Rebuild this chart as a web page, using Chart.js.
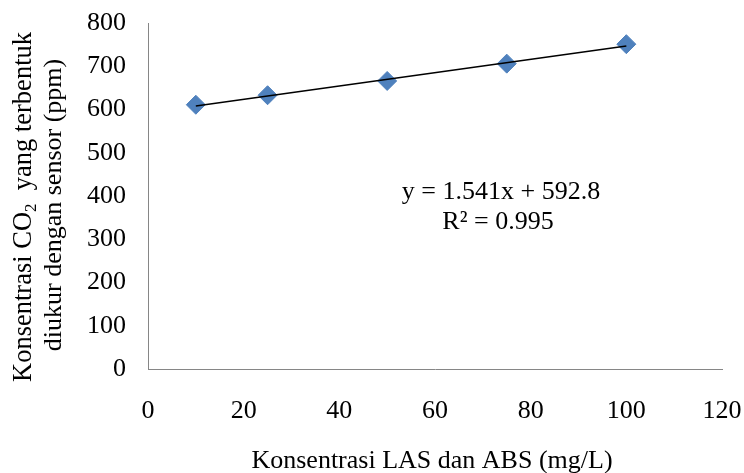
<!DOCTYPE html>
<html>
<head>
<meta charset="utf-8">
<script src="https://cdn.jsdelivr.net/npm/chart.js@4.4.0/dist/chart.umd.min.js"></script>
<style>
  html, body { margin: 0; padding: 0; background: #fff; }
  #wrap { width: 744px; height: 473px; }
</style>
</head>
<body>
<div id="wrap"><canvas id="co2Chart"></canvas></div>
<script>
// data
let lasAbs = [10, 25, 50, 75, 100];
let co2Ppm = [611, 633, 666, 706, 751];
let trendCoef = [1.541, 592.8];   // slope, intercept
let xTicks = [0, 20, 40, 60, 80, 100, 120];
let yTicks = [0, 100, 200, 300, 400, 500, 600, 700, 800];
let eqLines = ['y = 1.541x + 592.8', 'R\u00B2 = 0.995'];

let serif = '"Liberation Serif", "Times New Roman", serif';

let points = lasAbs.map((x, i) => ({x: x, y: co2Ppm[i]}));
let trendX = [lasAbs[0], lasAbs[lasAbs.length - 1]];
let trendPts = trendX.map(x => ({x: x, y: trendCoef[0] * x + trendCoef[1]}));

let titlesPlugin = {
    id: 'titles',
    afterDraw(chart) {
        let ctx = chart.ctx;
        ctx.save();
        ctx.fillStyle = '#000';
        ctx.textBaseline = 'middle';
        ctx.textAlign = 'center';

        // x title
        ctx.font = '26px ' + serif;
        ctx.fillText('Konsentrasi LAS dan ABS (mg/L)', 432, 461);

        // equation
        ctx.font = '26px ' + serif;
        ctx.fillText(eqLines[0], 501, 192);
        ctx.fillText(eqLines[1], 498, 222);

        // y title, two lines, rotated, with subscript
        ctx.save();
        ctx.translate(24, 207);
        ctx.rotate(-Math.PI / 2);
        let a = 'Konsentrasi CO', b = '2', c = '  yang terbentuk';
        ctx.font = '26.5px ' + serif;
        let wa = ctx.measureText(a).width;
        let wc = ctx.measureText(c).width;
        ctx.font = '17px ' + serif;
        let wb = ctx.measureText(b).width;
        let sx = -(wa + wb + wc) / 2;
        ctx.textAlign = 'left';
        ctx.font = '26.5px ' + serif;
        ctx.fillText(a, sx, 0);
        ctx.font = '17px ' + serif;
        ctx.fillText(b, sx + wa, 8);
        ctx.font = '26.5px ' + serif;
        ctx.fillText(c, sx + wa + wb, 0);
        ctx.restore();

        ctx.save();
        ctx.translate(54, 205);
        ctx.rotate(-Math.PI / 2);
        ctx.font = '26px ' + serif;
        ctx.textAlign = 'center';
        ctx.fillText('diukur dengan sensor (ppm)', 0, 0);
        ctx.restore();

        ctx.restore();
    }
};

document.addEventListener("DOMContentLoaded", function() {
    let ctx = document.getElementById("co2Chart").getContext('2d');
    let co2Chart = new Chart(ctx, {
        type: 'scatter',
        data: {
            datasets: [{
                label: 'Linear',
                data: trendPts,
                showLine: true,
                borderColor: '#000',
                borderWidth: 1.5,
                pointRadius: 0,
                fill: false
            }, {
                label: 'CO2',
                data: points,
                pointStyle: 'rectRot',
                pointRadius: 9.5,
                pointHoverRadius: 9.5,
                backgroundColor: '#4F81BD',
                borderColor: '#4F81BD',
                borderWidth: 1
            }]
        },
        options: {
            responsive: true,
            maintainAspectRatio: false,
            animation: false,
            layout: { padding: { top: 23, right: 22, left: 0, bottom: 0 } },
            plugins: {
                legend: { display: false },
                tooltip: { enabled: false }
            },
            scales: {
                x: {
                    type: 'linear',
                    min: 0,
                    max: 120,
                    afterBuildTicks: s => { s.ticks = xTicks.map(v => ({value: v})); },
                    afterFit: s => { s.height = 104; s.paddingLeft = 0; s.paddingRight = 0; },
                    grid: { display: false, drawTicks: false },
                    border: { color: '#868686', width: 1 },
                    ticks: {
                        padding: 27,
                        color: '#000',
                        maxRotation: 0,
                        font: { family: serif, size: 26 }
                    }
                },
                y: {
                    type: 'linear',
                    min: 0,
                    max: 800,
                    afterBuildTicks: s => { s.ticks = yTicks.map(v => ({value: v})); },
                    afterFit: s => { s.width = 148; s.paddingTop = 0; s.paddingBottom = 0; },
                    grid: { display: false, drawTicks: false },
                    border: { color: '#868686', width: 1 },
                    ticks: {
                        padding: 22,
                        color: '#000',
                        font: { family: serif, size: 26 }
                    }
                }
            }
        },
        plugins: [titlesPlugin]
    });
});
</script>
</body>
</html>
